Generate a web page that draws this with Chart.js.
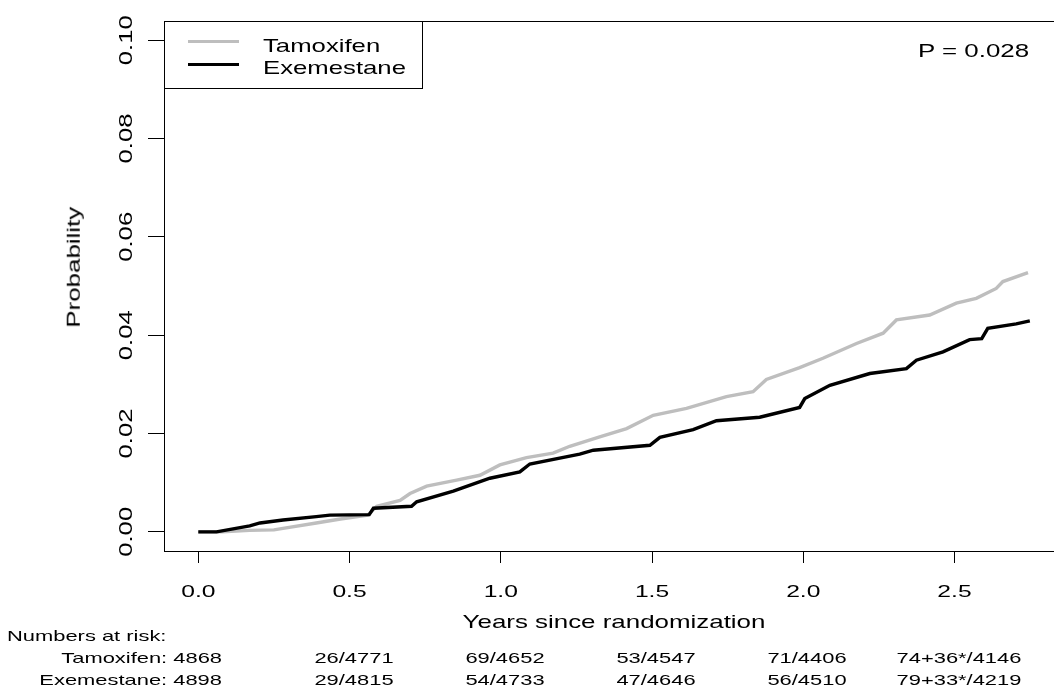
<!DOCTYPE html>
<html>
<head>
  <script src="https://cdn.jsdelivr.net/npm/chart.js@4.4.0/dist/chart.umd.min.js"></script>
  <style>
    html, body {
      margin: 0;
      padding: 0;
      background: white;
      overflow: hidden;
    }
    #wrap {
      position: relative;
      width: 1054px;
      height: 692px;
      overflow: hidden;
      background: white;
    }
    #kmChart {
      position: absolute;
      left: 0;
      top: 0;
    }
    .t {
      position: absolute;
      white-space: nowrap;
      font-family: "Liberation Sans", Arial, Helvetica, sans-serif;
      line-height: 1;
      color: #000;
    }
    #legendBox {
      position: absolute;
      left: 164px;
      top: 21px;
      width: 259px;
      height: 68px;
      box-sizing: border-box;
      border: 1px solid #000;
      background: white;
    }
    .key {
      position: absolute;
      height: 3px;
    }
  </style>
</head>
<body>
  <div id="wrap">
    <canvas id="kmChart" width="1100" height="692"></canvas>
    <div id="legendBox"></div>
  </div>

  <script>
    // cumulative probability
    const tamX = [0, 0.08, 0.17, 0.25, 0.28, 0.39, 0.47, 0.56, 0.59, 0.667, 0.70, 0.755, 0.854, 0.931, 0.997, 1.085, 1.173, 1.228, 1.327, 1.416, 1.504, 1.614, 1.746, 1.834, 1.878, 1.988, 2.065, 2.176, 2.264, 2.308, 2.418, 2.506, 2.572, 2.638, 2.66, 2.743];
    const tamY = [0, 0, 0.0003, 0.0004, 0.0007, 0.0018, 0.0026, 0.0034, 0.0052, 0.0064, 0.0078, 0.0093, 0.0105, 0.0115, 0.0136, 0.0151, 0.016, 0.0174, 0.0193, 0.021, 0.0237, 0.0251, 0.0275, 0.0285, 0.031, 0.0334, 0.0353, 0.0383, 0.0404, 0.0431, 0.0441, 0.0465, 0.0475, 0.0495, 0.0509, 0.0527];
    const exeX = [0, 0.06, 0.17, 0.204, 0.28, 0.39, 0.435, 0.565, 0.579, 0.705, 0.722, 0.843, 0.964, 1.063, 1.096, 1.261, 1.306, 1.493, 1.526, 1.636, 1.713, 1.856, 1.988, 2.005, 2.088, 2.22, 2.341, 2.374, 2.462, 2.55, 2.59, 2.61, 2.704, 2.749];
    const exeY = [0, 0, 0.0012, 0.0018, 0.0024, 0.0031, 0.0034, 0.0035, 0.0048, 0.0052, 0.0061, 0.0083, 0.0109, 0.0122, 0.0138, 0.0158, 0.0166, 0.0176, 0.0192, 0.0208, 0.0226, 0.0233, 0.0253, 0.0271, 0.0298, 0.0322, 0.0332, 0.0349, 0.0366, 0.0391, 0.0393, 0.0414, 0.0423, 0.0429];

    const seriesNames = ['Tamoxifen', 'Exemestane'];
    const seriesColors = ['#bebebe', '#000000'];

    const xTicks = [0, 0.5, 1, 1.5, 2, 2.5];
    const xTickLabels = ['0.0', '0.5', '1.0', '1.5', '2.0', '2.5'];
    const yTicks = [0, 0.02, 0.04, 0.06, 0.08, 0.10];
    const yTickLabels = ['0.00', '0.02', '0.04', '0.06', '0.08', '0.10'];

    const riskTimes = [0, 0.5, 1, 1.5, 2, 2.5];
    const tamRisk = ['4868', '26/4771', '69/4652', '53/4547', '71/4406', '74+36*/4146'];
    const exeRisk = ['4898', '29/4815', '54/4733', '47/4646', '56/4510', '79+33*/4219'];

    const pText = 'P = 0.028';

    const FONT = '"Liberation Sans", Arial, Helvetica, sans-serif';
    const wrap = document.getElementById('wrap');

    // text in the original is drawn wide, so stretch it horizontally
    function placeText(text, x, baseline, size, align, sx) {
      const el = document.createElement('div');
      el.className = 't';
      el.textContent = text;
      el.style.fontSize = size + 'px';
      el.style.top = (baseline - 0.8465 * size) + 'px';
      el.style.width = '600px';
      el.style.textAlign = align;
      if (align === 'left') {
        el.style.left = x + 'px';
        el.style.transformOrigin = 'left center';
      } else if (align === 'right') {
        el.style.left = (x - 600) + 'px';
        el.style.transformOrigin = 'right center';
      } else {
        el.style.left = (x - 300) + 'px';
        el.style.transformOrigin = 'center center';
      }
      el.style.transform = 'scaleX(' + sx + ')';
      wrap.appendChild(el);
      return el;
    }

    const frameAndTicks = {
      id: 'frameAndTicks',
      afterDraw(chart) {
        const { ctx, chartArea, scales } = chart;
        ctx.save();
        ctx.strokeStyle = '#000';
        ctx.lineWidth = 1;
        ctx.strokeRect(chartArea.left + 0.5, chartArea.top + 0.5,
          chartArea.right - chartArea.left, chartArea.bottom - chartArea.top);

        ctx.fillStyle = '#000';
        ctx.textAlign = 'center';
        ctx.textBaseline = 'alphabetic';

        ctx.font = '17px ' + FONT;
        xTicks.forEach((v, i) => {
          ctx.save();
          ctx.translate(scales.x.getPixelForValue(v), chartArea.bottom + 46);
          ctx.scale(1.45, 1);
          ctx.fillText(xTickLabels[i], 0, 0);
          ctx.restore();
        });

        ctx.font = '18.5px ' + FONT;
        yTicks.forEach((v, i) => {
          ctx.save();
          ctx.translate(chartArea.left - 32, scales.y.getPixelForValue(v));
          ctx.rotate(-Math.PI / 2);
          ctx.scale(1.39, 1);
          ctx.fillText(yTickLabels[i], 0, 0);
          ctx.restore();
        });
        ctx.restore();
      }
    };

    const ctx = document.getElementById('kmChart').getContext('2d');
    const kmChart = new Chart(ctx, {
      type: 'scatter',
      data: {
        datasets: [
          {
            label: seriesNames[0],
            data: tamX.map((x, i) => ({ x: x, y: tamY[i] })),
            borderColor: seriesColors[0],
            order: 2
          },
          {
            label: seriesNames[1],
            data: exeX.map((x, i) => ({ x: x, y: exeY[i] })),
            borderColor: seriesColors[1],
            order: 1
          }
        ].map(d => Object.assign(d, {
          showLine: true,
          borderWidth: 3.4,
          pointRadius: 0,
          fill: false,
          tension: 0
        }))
      },
      options: {
        responsive: false,
        animation: false,
        layout: {
          padding: { left: 0, top: 21, right: 36, bottom: 0 }
        },
        scales: {
          x: {
            type: 'linear',
            min: -0.1134,
            max: 2.862,
            afterBuildTicks: (scale) => { scale.ticks = xTicks.map(v => ({ value: v })); },
            afterFit: (scale) => { scale.height = 141; },
            ticks: { display: false },
            grid: {
              drawOnChartArea: false,
              drawTicks: true,
              tickLength: 12,
              color: '#000',
              tickColor: '#000',
              lineWidth: 1
            },
            border: { display: false }
          },
          y: {
            type: 'linear',
            min: -0.0039,
            max: 0.1039,
            afterBuildTicks: (scale) => { scale.ticks = yTicks.map(v => ({ value: v })); },
            afterFit: (scale) => { scale.width = 164; },
            ticks: { display: false },
            grid: {
              drawOnChartArea: false,
              drawTicks: true,
              tickLength: 16,
              color: '#000',
              tickColor: '#000',
              lineWidth: 1
            },
            border: { display: false }
          }
        },
        plugins: {
          legend: { display: false },
          tooltip: { enabled: false }
        }
      },
      plugins: [frameAndTicks]
    });

    // legend
    const legendBox = document.getElementById('legendBox');
    seriesNames.forEach((name, i) => {
      const key = document.createElement('div');
      key.className = 'key';
      key.style.left = '23px';
      key.style.width = '51px';
      key.style.top = (19 + i * 23 - 1) + 'px';
      key.style.background = seriesColors[i];
      legendBox.appendChild(key);
      placeText(name, 263, 52.3 + i * 22, 18.5, 'left', 1.39);
    });

    placeText(pText, 918, 57.3, 18.5, 'left', 1.40);

    const area = kmChart.chartArea;
    const xs = kmChart.scales.x;

    placeText('Years since randomization', (area.left + area.right) / 2, 629, 18.5, 'center', 1.40);

    // y axis title, rotated
    const yTitle = document.createElement('div');
    yTitle.className = 't';
    yTitle.textContent = 'Probability';
    yTitle.style.fontSize = '18.5px';
    yTitle.style.width = '300px';
    yTitle.style.textAlign = 'center';
    yTitle.style.left = (74.3 - 150) + 'px';
    yTitle.style.top = (267 - 9.25) + 'px';
    yTitle.style.transformOrigin = 'center center';
    yTitle.style.transform = 'rotate(-90deg) scaleX(1.4)';
    wrap.appendChild(yTitle);

    // numbers at risk
    placeText('Numbers at risk:', 7, 640.7, 15, 'left', 1.46);
    const rows = [[seriesNames[0], tamRisk, 662.3], [seriesNames[1], exeRisk, 684.3]];
    rows.forEach(([name, vals, base]) => {
      riskTimes.forEach((t, i) => {
        const px = xs.getPixelForValue(t);
        if (i === 0) {
          placeText(name + ': ' + vals[0], px + 24, base, 15, 'right', 1.46);
        } else {
          placeText(vals[i], px + 4, base, 15, 'center', 1.46);
        }
      });
    });
  </script>
</body>
</html>
